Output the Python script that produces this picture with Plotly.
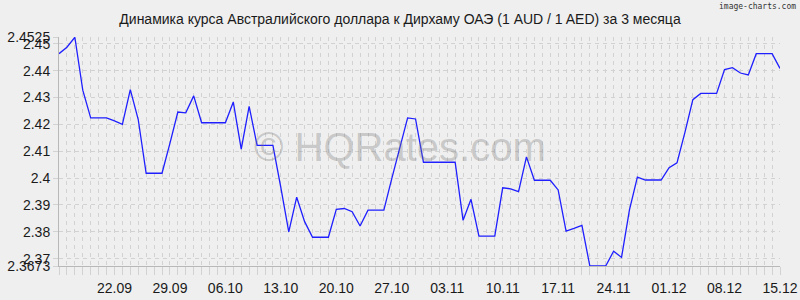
import pandas as pd
import plotly.graph_objects as go

# ---- data ----
start_date = "2024-09-15"
n_days = 92
rates = [
    2.4463, 2.4487, 2.4524, 2.4327, 2.4224, 2.4224, 2.4224, 2.4213, 2.4200, 2.4329,
    2.4218, 2.4018, 2.4018, 2.4018, 2.4129, 2.4246, 2.4243, 2.4306, 2.4206, 2.4206,
    2.4206, 2.4206, 2.4283, 2.4108, 2.4267, 2.4122, 2.4122, 2.4122, 2.3965, 2.3800,
    2.3929, 2.3838, 2.3780, 2.3780, 2.3780, 2.3884, 2.3887, 2.3875, 2.3822, 2.3881,
    2.3881, 2.3881, 2.3998, 2.4116, 2.4224, 2.4220, 2.4059, 2.4059, 2.4059, 2.4059,
    2.4059, 2.3843, 2.3921, 2.3784, 2.3784, 2.3784, 2.3964, 2.3960, 2.3950, 2.4079,
    2.3992, 2.3992, 2.3992, 2.3956, 2.3803, 2.3813, 2.3824, 2.3673, 2.3673, 2.3673,
    2.3728, 2.3705, 2.3882, 2.4004, 2.3993, 2.3993, 2.3993, 2.4039, 2.4057, 2.4170,
    2.4292, 2.4315, 2.4315, 2.4315, 2.4404, 2.4411, 2.4391, 2.4384, 2.4463, 2.4463,
    2.4463, 2.4408,
]
x_tick_dates = ["2024-09-22", "2024-09-29", "2024-10-06", "2024-10-13", "2024-10-20",
                "2024-10-27", "2024-11-03", "2024-11-10", "2024-11-17", "2024-11-24",
                "2024-12-01", "2024-12-08", "2024-12-15"]
x_tick_labels = ["22.09", "29.09", "06.10", "13.10", "20.10", "27.10", "03.11",
                 "10.11", "17.11", "24.11", "01.12", "08.12", "15.12"]
y_tick_values = [2.3673, 2.37, 2.38, 2.39, 2.40, 2.41, 2.42, 2.43, 2.44, 2.45, 2.4525]
y_tick_labels = ["2.3673", "2.37", "2.38", "2.39", "2.4", "2.41", "2.42", "2.43",
                 "2.44", "2.45", "2.4525"]
y_min, y_max = 2.3673, 2.4525
title_text = "Динамика курса Австралийского доллара к Дирхаму ОАЭ (1 AUD / 1 AED) за 3 месяца"

dates = pd.date_range(start_date, periods=n_days, freq="D")

BG = "#efefef"
GRID = "#d2d2d2"
FONT = "Liberation Sans, Arial, sans-serif"

fig = go.Figure()
fig.add_trace(go.Scatter(
    x=dates, y=rates, mode="lines",
    line=dict(color="#1f1fff", width=1.3),
    hoverinfo="skip", showlegend=False,
))

fig.update_layout(
    width=800, height=300,
    margin=dict(l=59, r=20, t=37, b=34),
    paper_bgcolor=BG, plot_bgcolor=BG,
    font=dict(family=FONT, size=14, color="#1a1a1a"),
    title=dict(text=title_text, x=0.5, xref="container", xanchor="center",
               y=1 - 19 / 300, yref="container", yanchor="middle",
               font=dict(family=FONT, size=14, color="#1a1a1a")),
    xaxis=dict(
        range=[dates[0], dates[-1]],
        tickvals=x_tick_dates, ticktext=x_tick_labels,
        showgrid=True, gridcolor=GRID, griddash="4px,4px", gridwidth=1,
        ticks="outside", ticklen=8, tickcolor=GRID, ticklabelstandoff=1,
        minor=dict(dtick=86400000, showgrid=True, gridcolor=GRID,
                   griddash="4px,4px", ticks="outside", ticklen=8, tickcolor=GRID),
        showline=True, linecolor="#b8b8b8", linewidth=1,
        zeroline=False, fixedrange=True, automargin=False,
        tickfont=dict(family=FONT, size=14, color="#1a1a1a"),
    ),
    yaxis=dict(
        range=[y_min, y_max],
        tickvals=y_tick_values, ticktext=y_tick_labels,
        showgrid=True, gridcolor=GRID, griddash="4px,4px", gridwidth=1,
        ticks="outside", ticklen=5, tickcolor=GRID,
        showline=True, linecolor="#b8b8b8", linewidth=1,
        zeroline=False, fixedrange=True, automargin=False,
        tickfont=dict(family=FONT, size=14, color="#1a1a1a"),
    ),
)

# watermarks
fig.add_annotation(text="© HQRates.com", xref="paper", yref="paper",
                   x=(400 - 59) / 721, y=1 - (147 - 37) / 229,
                   xanchor="center", yanchor="middle", showarrow=False,
                   font=dict(family=FONT, size=40, color="rgba(120,120,120,0.33)"))
fig.add_annotation(text="image-charts.com", xref="paper", yref="paper",
                   x=(798 - 59) / 721, y=1 + (37 - 6.5) / 229,
                   xanchor="right", yanchor="middle", showarrow=False,
                   font=dict(family="DejaVu Sans Mono, monospace", size=8, color="#333333"))

fig.write_html("out.html", config={"displayModeBar": False})
